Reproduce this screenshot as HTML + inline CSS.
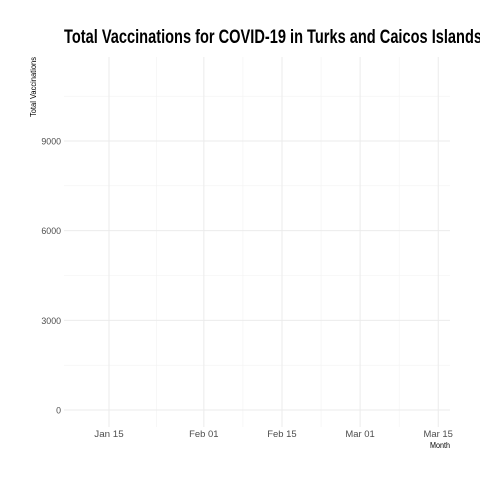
<!DOCTYPE html>
<html><head><meta charset="utf-8"><style>
body{margin:0;background:#fff;}
svg text{font-family:"Liberation Sans",sans-serif;}
</style></head><body>
<svg id="chart" width="480" height="480">
<rect width="480" height="480" fill="#fff"/>
<text x="64" y="43" font-size="19" font-weight="bold" fill="#000" textLength="418" lengthAdjust="spacingAndGlyphs">Total Vaccinations for COVID-19 in Turks and Caicos Islands</text>
<g id="grid"></g><g id="axes"></g><g id="marks"></g>
<text transform="translate(36,87) rotate(-90)" font-size="8" text-anchor="middle" fill="#000" textLength="60" lengthAdjust="spacingAndGlyphs">Total Vaccinations</text>
<text x="450" y="448" font-size="8" text-anchor="end" fill="#000" textLength="20" lengthAdjust="spacingAndGlyphs">Month</text>
</svg>
<script>
const xTickLabels=["Jan 15","Feb 01","Feb 15","Mar 01","Mar 15"];
const xTickDays=[14,31,45,59,73];
const xMinorDays=[22.5,38,52,66];
const yTicks=[0,3000,6000,9000];
const yMinor=[1500,4500,7500,10500];
const seriesDays=[];
const seriesValues=[];
const X=d=>109+(d-14)*5.58;
const Y=v=>410-v*269/9000;
const ns="http://www.w3.org/2000/svg";
const grid=document.getElementById('grid'),axes=document.getElementById('axes'),marks=document.getElementById('marks');
function line(p,x1,y1,x2,y2,c,w,name){const l=document.createElementNS(ns,'line');l.setAttribute('x1',x1);l.setAttribute('y1',y1);l.setAttribute('x2',x2);l.setAttribute('y2',y2);l.setAttribute('stroke',c);l.setAttribute('stroke-width',w);


p.appendChild(l);}
function text(x,y,s,anchor,name){const t=document.createElementNS(ns,'text');t.setAttribute('x',x);t.setAttribute('y',y);t.setAttribute('font-size','9.5');t.setAttribute('fill','#4d4d4d');t.setAttribute('text-anchor',anchor);t.setAttribute('textLength',s.length*4.9);t.setAttribute('lengthAdjust','spacingAndGlyphs');t.textContent=s;


axes.appendChild(t);}
yMinor.forEach(v=>line(grid,64,Y(v),450,Y(v),'#f2f2f2',0.6,'y-minor-gridline'));
xMinorDays.forEach(d=>line(grid,X(d),57,X(d),427,'#f2f2f2',0.6,'x-minor-gridline'));
yTicks.forEach(v=>{line(grid,64,Y(v),450,Y(v),'#ebebeb',1,'y-gridline');text(61,Y(v)+3.5,String(v),'end','y-tick-label');});
xTickDays.forEach((d,i)=>{line(grid,X(d),57,X(d),427,'#ebebeb',1,'x-gridline');text(X(d),437,xTickLabels[i],'middle','x-tick-label');});
if(seriesDays.length){const p=document.createElementNS(ns,'polyline');p.setAttribute('points',seriesDays.map((d,i)=>X(d)+','+Y(seriesValues[i])).join(' '));p.setAttribute('fill','none');p.setAttribute('stroke','#000');


marks.appendChild(p);}
</script>
</body></html>
